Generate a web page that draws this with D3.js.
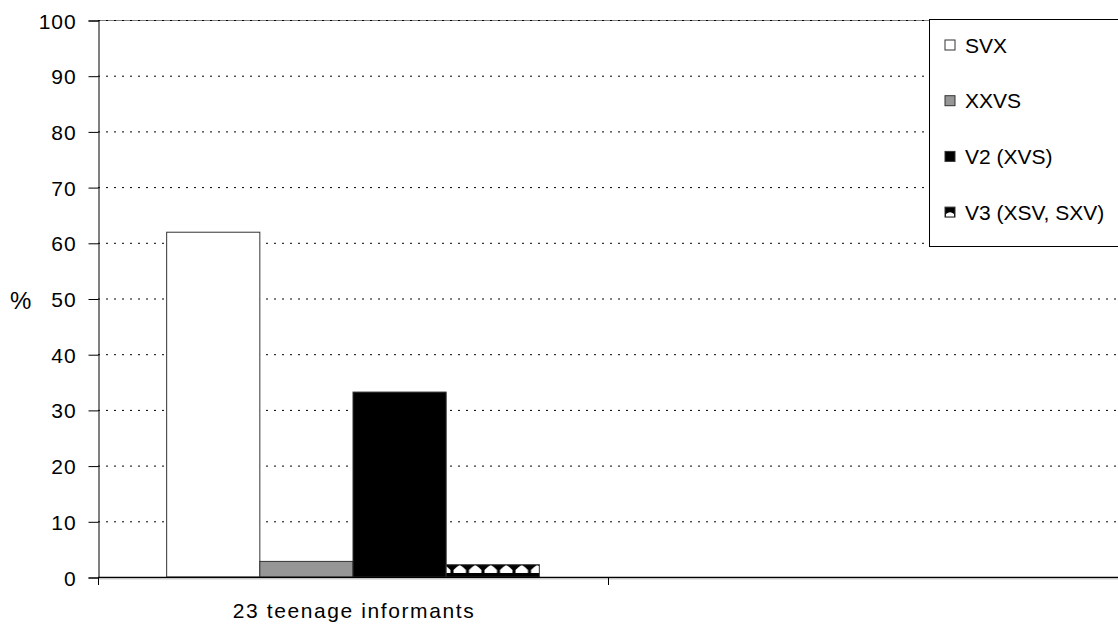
<!DOCTYPE html>
<html>
<head>
<meta charset="utf-8">
<script src="https://cdn.jsdelivr.net/npm/d3@7"></script>
<style>
  body { margin: 0; background: #fff; }
  text { font-family: "Liberation Sans", Arial, sans-serif; fill: #000; }
</style>
</head>
<body>
<div id="chart-area"></div>
<script>
// data
const categories = ["23 teenage informants", ""];
const seriesNames = ["SVX", "XXVS", "V2 (XVS)", "V3 (XSV, SXV)"];
const seriesValues = [61.9, 2.8, 33.2, 2.2];
const yTicks = [0, 10, 20, 30, 40, 50, 60, 70, 80, 90, 100];

const W = 1118, H = 624;
const margin = { left: 98, right: 0, top: 20, bottom: 47 };
const width = W - margin.left - margin.right,
  height = H - margin.top - margin.bottom;

const svg = d3.select("#chart-area")
  .append("svg")
  .attr("width", W)
  .attr("height", H);

const defs = svg.append("defs");
const pat = defs.append("pattern")
  .attr("id", "bumps")
  .attr("patternUnits", "userSpaceOnUse")
  .attr("width", 15.5)
  .attr("height", 12)
  .attr("x", 447)
  .attr("y", 565);
pat.append("rect").attr("width", 15.5).attr("height", 12).attr("fill", "#000");
pat.append("path")
  .attr("d", "M1.5,12 L1.5,9 Q4,6 7.75,4 Q11.5,6 14,9 L14,12 Z")
  .attr("fill", "#fff");

const g = svg.append("g")
  .attr("transform", "translate(" + margin.left + ", " + margin.top + ")");

const y = d3.scaleLinear()
  .domain([0, 100])
  .range([height, 0]);

const x = d3.scaleBand()
  .domain(categories)
  .range([0, width]);

const xs = d3.scaleBand()
  .domain(seriesNames)
  .range([0, x.bandwidth()])
  .paddingInner(0)
  .paddingOuter(0.737);

const fills = ["#fff", "#969696", "#000", "url(#bumps)"];

// gridlines
g.selectAll(".grid")
  .data(yTicks.filter(d => d > 0 && d < 100))
  .enter()
  .append("line")
  .attr("class", "grid")
  .attr("x1", 0)
  .attr("x2", width)
  .attr("y1", d => y(d) + 0.5)
  .attr("y2", d => y(d) + 0.5)
  .attr("stroke", "#000")
  .attr("stroke-width", 1)
  .attr("stroke-dasharray", "2,6");

// plot top border
g.append("line")
  .attr("x1", 0).attr("x2", width)
  .attr("y1", 0.5).attr("y2", 0.5)
  .attr("stroke", "#808080");
g.append("line")
  .attr("x1", 0).attr("x2", width)
  .attr("y1", 0.5).attr("y2", 0.5)
  .attr("stroke", "#000")
  .attr("stroke-dasharray", "2,6");

// Y axis
const yAxisCall = d3.axisLeft(y)
  .tickValues(yTicks)
  .tickSize(10)
  .tickPadding(12);
const yAxis = g.append("g")
  .attr("class", "y-axis")
  .attr("transform", "translate(0.5, 0.5)")
  .call(yAxisCall);
yAxis.select(".domain").attr("stroke", "#000");
yAxis.selectAll("line").attr("stroke", "#000");
yAxis.selectAll("text")
  .attr("font-size", "21px")
  .attr("letter-spacing", "0.9px")
  .attr("dy", "0.36em");

// bars
g.selectAll(".bar")
  .data(seriesValues)
  .enter()
  .append("rect")
  .attr("class", "bar")
  .attr("x", (d, i) => x(categories[0]) + xs(seriesNames[i]))
  .attr("y", d => y(d))
  .attr("width", xs.bandwidth())
  .attr("height", d => height - y(d))
  .attr("fill", (d, i) => fills[i])
  .attr("stroke", "#333")
  .attr("stroke-width", 1);

// X axis
g.append("line")
  .attr("x1", 0).attr("x2", width)
  .attr("y1", height + 0.5).attr("y2", height + 0.5)
  .attr("stroke", "#000")
  .attr("stroke-width", 1.5);
g.append("line")
  .attr("x1", 0).attr("x2", width)
  .attr("y1", height + 2).attr("y2", height + 2)
  .attr("stroke", "#ccc")
  .attr("stroke-width", 1);

g.selectAll(".xtick")
  .data(categories)
  .enter()
  .append("line")
  .attr("class", "xtick")
  .attr("x1", d => x(d) + 0.5)
  .attr("x2", d => x(d) + 0.5)
  .attr("y1", height)
  .attr("y2", height + 8)
  .attr("stroke", "#000");

g.selectAll(".xlabel")
  .data(categories)
  .enter()
  .append("text")
  .attr("class", "xlabel")
  .attr("x", d => x(d) + x.bandwidth() / 2 + 1)
  .attr("y", height + 41)
  .attr("text-anchor", "middle")
  .attr("font-size", "21px")
  .attr("letter-spacing", "1.6px")
  .text(d => d);

// Y label
svg.append("text")
  .attr("x", 10)
  .attr("y", 309)
  .attr("font-size", "24px")
  .text("%");

// legend
const lg = svg.append("g").attr("transform", "translate(929.5, 19.5)");
lg.append("rect")
  .attr("width", 200)
  .attr("height", 227)
  .attr("fill", "#fff")
  .attr("stroke", "#000");
const items = lg.selectAll(".item")
  .data(seriesNames)
  .enter()
  .append("g")
  .attr("class", "item")
  .attr("transform", (d, i) => "translate(0, " + (25.5 + i * 55.7) + ")");
items.append("rect")
  .attr("x", 15.5)
  .attr("y", -5)
  .attr("width", 10)
  .attr("height", 10)
  .attr("fill", (d, i) => i === 3 ? "#000" : fills[i])
  .attr("stroke", "#333");
items.filter((d, i) => i === 3)
  .append("path")
  .attr("d", "M16.5,4.5 L16.5,2 Q20.5,-1.5 24.5,2 L24.5,4.5 Z")
  .attr("fill", "#fff");
items.append("text")
  .attr("x", 35.5)
  .attr("y", 7.5)
  .attr("font-size", "21px")
  .text(d => d);
</script>
</body>
</html>
